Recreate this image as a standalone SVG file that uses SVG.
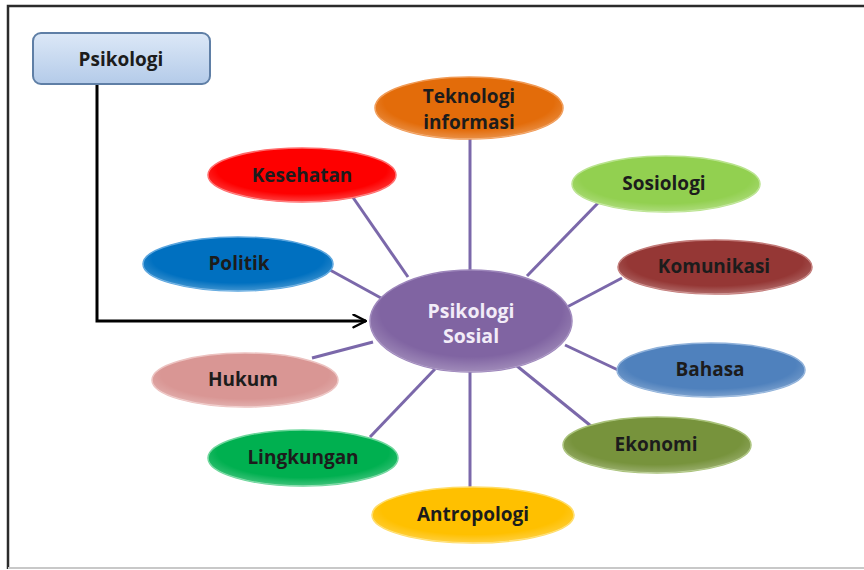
<svg xmlns="http://www.w3.org/2000/svg" width="864" height="570" viewBox="0 0 864 570">
  <defs>
    <linearGradient id="boxFill" x1="0" y1="0" x2="0" y2="1">
      <stop offset="0" stop-color="#dce8f7"/>
      <stop offset="1" stop-color="#b4cbe9"/>
    </linearGradient>
    <radialGradient id="shine" cx="0.5" cy="0.4" r="0.6">
      <stop offset="0.75" stop-color="#fff" stop-opacity="0"/>
      <stop offset="1" stop-color="#fff" stop-opacity="0.25"/>
    </radialGradient>
    <marker id="chevron" viewBox="0 0 12 12" refX="11" refY="6" markerWidth="5" markerHeight="5" orient="auto" markerUnits="strokeWidth">
      <path d="M1,1 L11,6 L1,11" fill="none" stroke="#000" stroke-width="2" stroke-linecap="round" stroke-linejoin="round"/>
    </marker>
    <style>
      .frame { fill: none; stroke: #2b2b2b; stroke-width: 2.5; }
      .frameLow { fill: none; stroke: #c8c8c8; stroke-width: 2; }
      .spoke { stroke: #7b68aa; stroke-width: 3; fill: none; }
      .flow { stroke: #000; stroke-width: 3; fill: none; }
      .node { stroke-width: 1.5; }
      .label { font-family: "Open Sans", "Liberation Sans", sans-serif; font-weight: bold; font-size: 19px; fill: #1c1c1c; text-anchor: middle; }
      .hub { fill: #f2ecf8; font-size: 19.5px; }
    </style>
  </defs>

  <rect width="864" height="570" fill="#fff"/>
  <!-- outer frame -->
  <path class="frame" d="M864,6 H8 V569"/>
  <path class="frameLow" d="M8,568 H864"/>

  <!-- spokes and flow arrow -->
  <g id="connectors">
    <line class="spoke" x1="470" y1="139" x2="470" y2="271"/>
    <line class="spoke" x1="352" y1="196" x2="408" y2="277"/>
    <line class="spoke" x1="598" y1="203" x2="527" y2="276"/>
    <line class="spoke" x1="622" y1="278" x2="567" y2="307"/>
    <line class="spoke" x1="330" y1="270" x2="381" y2="298"/>
    <line class="spoke" x1="312" y1="358" x2="373" y2="342"/>
    <line class="spoke" x1="565" y1="345" x2="618" y2="370"/>
    <line class="spoke" x1="435" y1="369" x2="370" y2="437"/>
    <line class="spoke" x1="470" y1="371" x2="470" y2="488"/>
    <line class="spoke" x1="517" y1="366" x2="591" y2="426"/>
    <path class="flow" d="M97,82 V321 H366" marker-end="url(#chevron)"/>
  </g>

  <g id="psikologi">
    <rect x="33" y="33" width="177" height="51" rx="8" fill="url(#boxFill)" stroke="#5f7fa6" stroke-width="2"/>
    <text class="label" x="121" y="66" font-size="20">Psikologi</text>
  </g>

  <g id="psikologi-sosial">
    <ellipse cx="471" cy="321" rx="101" ry="51" fill="#8064a2" stroke="#9d86bb" class="node"/>
    <ellipse cx="471" cy="321" rx="101" ry="51" fill="url(#shine)"/>
    <text class="label hub" x="471" y="318">Psikologi</text>
    <text class="label hub" x="471" y="343">Sosial</text>
  </g>

  <g id="teknologi-informasi">
    <ellipse cx="469" cy="108" rx="94" ry="31" fill="#e36c0a" stroke="#f09a55" class="node"/>
    <ellipse cx="469" cy="108" rx="94" ry="31" fill="url(#shine)"/>
    <text class="label" x="469" y="103">Teknologi</text>
    <text class="label" x="469" y="129">informasi</text>
  </g>

  <g id="kesehatan">
    <ellipse cx="302" cy="175" rx="94" ry="27" fill="#fe0000" stroke="#ff6a6a" class="node"/>
    <ellipse cx="302" cy="175" rx="94" ry="27" fill="url(#shine)"/>
    <text class="label" x="302" y="182">Kesehatan</text>
  </g>

  <g id="sosiologi">
    <ellipse cx="666" cy="184" rx="94" ry="28" fill="#92d050" stroke="#b9e38e" class="node"/>
    <ellipse cx="666" cy="184" rx="94" ry="28" fill="url(#shine)"/>
    <text class="label" x="664" y="190">Sosiologi</text>
  </g>

  <g id="komunikasi">
    <ellipse cx="715" cy="267" rx="97" ry="27" fill="#953735" stroke="#c27a78" class="node"/>
    <ellipse cx="715" cy="267" rx="97" ry="27" fill="url(#shine)"/>
    <text class="label" x="714" y="273">Komunikasi</text>
  </g>

  <g id="politik">
    <ellipse cx="238" cy="264" rx="95" ry="27" fill="#0070c0" stroke="#5aa5de" class="node"/>
    <ellipse cx="238" cy="264" rx="95" ry="27" fill="url(#shine)"/>
    <text class="label" x="239" y="270">Politik</text>
  </g>

  <g id="hukum">
    <ellipse cx="245" cy="380" rx="93" ry="27" fill="#d99694" stroke="#ecc2c0" class="node"/>
    <ellipse cx="245" cy="380" rx="93" ry="27" fill="url(#shine)"/>
    <text class="label" x="243" y="386">Hukum</text>
  </g>

  <g id="bahasa">
    <ellipse cx="711" cy="370" rx="94" ry="27" fill="#4f81bd" stroke="#8fb1da" class="node"/>
    <ellipse cx="711" cy="370" rx="94" ry="27" fill="url(#shine)"/>
    <text class="label" x="710" y="376">Bahasa</text>
  </g>

  <g id="lingkungan">
    <ellipse cx="303" cy="458" rx="95" ry="28" fill="#00b050" stroke="#6dd69b" class="node"/>
    <ellipse cx="303" cy="458" rx="95" ry="28" fill="url(#shine)"/>
    <text class="label" x="303" y="464">Lingkungan</text>
  </g>

  <g id="ekonomi">
    <ellipse cx="657" cy="445" rx="94" ry="28" fill="#77933c" stroke="#a9c27a" class="node"/>
    <ellipse cx="657" cy="445" rx="94" ry="28" fill="url(#shine)"/>
    <text class="label" x="656" y="451">Ekonomi</text>
  </g>

  <g id="antropologi">
    <ellipse cx="473" cy="515" rx="101" ry="28" fill="#ffc000" stroke="#ffdc66" class="node"/>
    <ellipse cx="473" cy="515" rx="101" ry="28" fill="url(#shine)"/>
    <text class="label" x="473" y="521">Antropologi</text>
  </g>
</svg>
